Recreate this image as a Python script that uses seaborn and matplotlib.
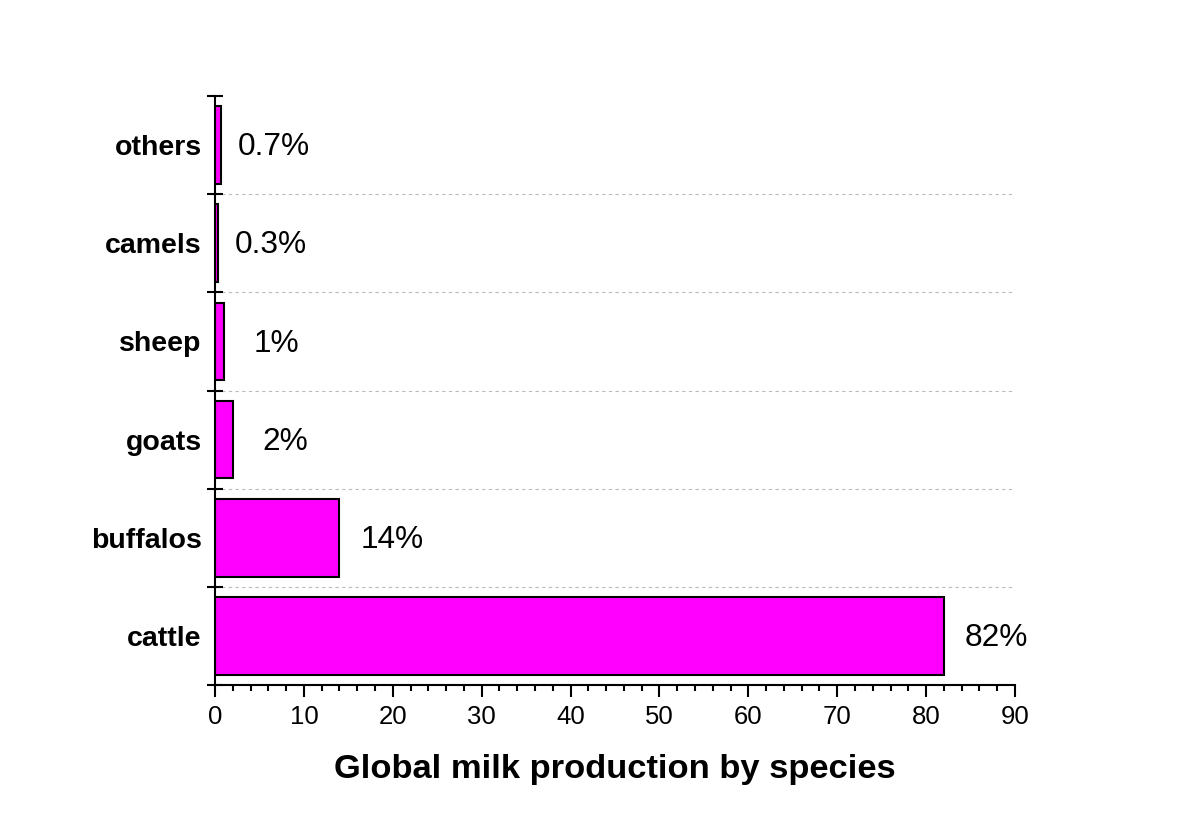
import matplotlib
matplotlib.use("Agg")
import matplotlib.pyplot as plt
import seaborn as sns
import pandas as pd
from matplotlib.ticker import MultipleLocator, FixedLocator

species = ["others", "camels", "sheep", "goats", "buffalos", "cattle"]
values = [0.7, 0.3, 1, 2, 14, 82]
labels = ["0.7%", "0.3%", "1%", "2%", "14%", "82%"]
xticks = [0, 10, 20, 30, 40, 50, 60, 70, 80, 90]

sns.set_theme(style="white")
plt.rcParams['font.family'] = ['Liberation Sans', 'DejaVu Sans']
plt.rcParams['text.color'] = 'black'
plt.rcParams['axes.labelcolor'] = 'black'
plt.rcParams['xtick.color'] = 'black'
plt.rcParams['ytick.color'] = 'black'

df = pd.DataFrame({"species": species, "value": values})

fig = plt.figure(figsize=(11.77, 8.23), dpi=100)
ax = fig.add_axes([215/1177, 1-685/823, 800/1177, 589/823])

sns.barplot(data=df, x="value", y="species", order=species, orient="h",
            color="#FF00FF", saturation=1, edgecolor="black", linewidth=1.5,
            width=0.79, ax=ax)

ax.set_xlim(0, 90)
ax.set_ylim(len(species) - 0.5, -0.5)

# gridlines at interior category boundaries
for b in range(len(species) - 1):
    ax.axhline(b + 0.5, color="#bbbbbb", linestyle=(0, (3, 3)), linewidth=0.8, zorder=0)

for i, (v, lab) in enumerate(zip(values, labels)):
    ax.annotate(lab, xy=(v, i), xytext=(38, -1.5), textcoords="offset points",
                va="center", ha="center", fontsize=22.8, color="black")

ax.xaxis.set_major_locator(FixedLocator(xticks))
ax.xaxis.set_minor_locator(MultipleLocator(2))
ax.tick_params(axis="x", which="major", direction="out", length=8.6, width=1.5,
               labelsize=18.5, pad=5.5, bottom=True)
ax.tick_params(axis="x", which="minor", direction="out", length=4.3, width=1.5, bottom=True)

ax.yaxis.set_minor_locator(FixedLocator([b - 0.5 for b in range(len(species) + 1)]))
ax.tick_params(axis="y", which="major", length=0, pad=9.5, labelsize=20.5)
ax.tick_params(axis="y", which="minor", direction="inout", length=12, width=1.5, left=True)
for t in ax.get_yticklabels():
    t.set_fontweight("bold")

ax.set_ylabel("")
ax.set_xlabel("Global milk production by species", fontsize=24.8, fontweight="bold", labelpad=18)

for s in ["top", "right"]:
    ax.spines[s].set_visible(False)
for s in ["left", "bottom"]:
    ax.spines[s].set_color("black")
    ax.spines[s].set_linewidth(1.5)

fig.savefig("out.png", dpi=100, facecolor="white")
